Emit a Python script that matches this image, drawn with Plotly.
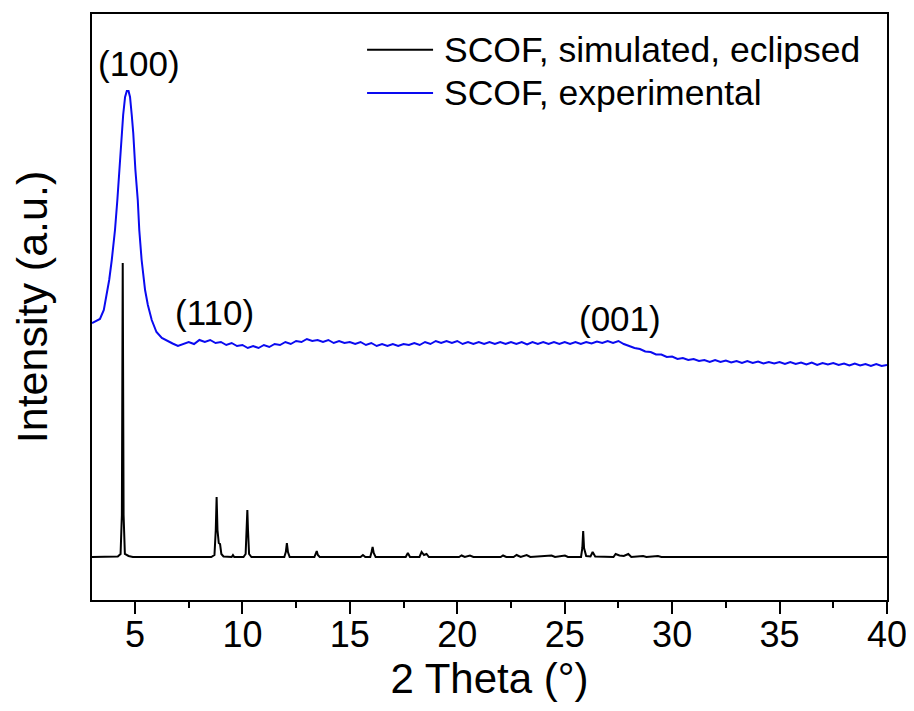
import plotly.graph_objects as go

# ---- data ----
# simulated pattern (eclipsed), intensity a.u.
sim_x = [3.0, 4.20, 4.33, 4.39, 4.43, 4.47, 4.53, 4.70, 4.90,
         8.55, 8.70, 8.76, 8.80, 8.84, 8.90, 8.96, 9.02, 9.12, 9.50, 9.56, 9.62,
         10.05, 10.15, 10.20, 10.23, 10.26, 10.31, 10.42,
         11.95, 12.02, 12.07, 12.12, 12.20,
         13.35, 13.42, 13.46, 13.51, 13.60,
         15.50, 15.61, 15.72, 15.95, 16.01, 16.06, 16.11, 16.20,
         17.60, 17.70, 17.80, 18.24, 18.34, 18.45, 18.57, 18.68,
         20.08, 20.20, 20.35, 20.59, 20.75, 22.02, 22.13, 22.28, 22.62, 22.76, 22.95,
         23.23, 23.40, 24.39, 24.55, 25.01, 25.15,
         25.76, 25.82, 25.86, 25.90, 26.00, 26.20, 26.30, 26.42,
         27.27, 27.37, 27.55, 27.75, 27.96, 28.10, 28.65, 28.80, 29.34, 29.50, 40.0]
sim_y = [43, 43.5, 46, 85, 337, 85, 46, 44, 43,
         43, 45, 70, 103, 70, 57, 56, 46, 43.5, 43, 45, 43,
         43, 46, 70, 90, 70, 46, 43,
         43, 48, 57, 48, 43,
         43, 46, 49, 45, 43,
         43, 45, 43, 43, 48, 53, 47, 43,
         43, 47, 43, 43, 48, 45, 46, 43,
         43, 44.5, 43, 44.5, 43, 43, 44.5, 43, 43, 45, 43,
         45, 43, 44.5, 43, 44.5, 43,
         43, 52, 69, 52, 44, 43.5, 48, 43.5,
         43, 46, 44.5, 44, 46, 43, 44, 43, 44, 43, 43]

# experimental pattern, intensity a.u.
exp_x = [3.0, 3.2, 3.37, 3.55, 3.68, 3.8, 3.92, 4.07, 4.18, 4.3, 4.38, 4.45, 4.54, 4.62, 4.70,
         4.77, 4.85, 4.92, 5.02, 5.13, 5.20, 5.31, 5.47, 5.6, 5.78, 5.95,
         6.0, 6.25, 6.5, 6.75, 7.0, 7.25, 7.5, 7.75, 8.0, 8.25, 8.5, 8.75,
         9.0, 9.25, 9.5, 9.75, 10.0, 10.25, 10.5, 10.75, 11.0, 11.25, 11.5, 11.75,
         12.0, 12.25, 12.5, 12.75, 13.0, 13.25, 13.5, 13.75, 14.0, 14.25, 14.5, 14.75,
         15.0, 15.25, 15.5, 15.75, 16.0, 16.25, 16.5, 16.75, 17.0, 17.25, 17.5, 17.75,
         18.0, 18.25, 18.5, 18.75, 19.0, 19.25, 19.5, 19.75, 20.0, 20.25, 20.5, 20.75,
         21.0, 21.25, 21.5, 21.75, 22.0, 22.25, 22.5, 22.75, 23.0, 23.25, 23.5, 23.75,
         24.0, 24.25, 24.5, 24.75, 25.0, 25.25, 25.5, 25.75, 26.0, 26.25, 26.5, 26.75,
         27.0, 27.25, 27.5, 27.75, 28.0, 28.25, 28.5, 28.75, 29.0, 29.25, 29.5, 29.75,
         30.0, 30.25, 30.5, 30.75, 31.0, 31.25, 31.5, 31.75, 32.0, 32.25, 32.5, 32.75,
         33.0, 33.25, 33.5, 33.75, 34.0, 34.25, 34.5, 34.75, 35.0, 35.25, 35.5, 35.75,
         36.0, 36.25, 36.5, 36.75, 37.0, 37.25, 37.5, 37.75, 38.0, 38.25, 38.5, 38.75,
         39.0, 39.25, 39.5, 39.75, 40.0]
exp_y = [277, 279, 281, 290, 305, 320, 340, 370, 400, 440, 467, 485, 503, 509, 509,
         503, 485, 467, 430, 400, 370, 340, 310, 295, 280, 271,
         268, 262, 259, 256.5, 254, 256, 258, 256, 260, 258, 260, 257,
         258, 255, 257, 254, 255, 252, 254, 252, 255, 253, 256, 255,
         258, 256, 259, 258, 261, 259, 260, 258, 260, 257, 259, 257,
         258, 256, 258, 255, 257, 254, 256, 254, 256, 254, 256, 255,
         257, 255, 258, 256, 259, 257, 259, 257, 259, 256, 258, 256,
         258, 256, 258, 256, 258, 256, 258, 256, 258, 255.5, 258, 256,
         258, 256, 258, 256, 258, 256, 258, 256, 258, 256.5, 258.5, 257,
         259, 257, 259, 256, 254, 252, 251, 248.5, 248, 245.5, 245.5, 243,
         243.5, 241, 242, 240, 241, 239, 240, 238, 240, 238, 239.5, 237.5,
         239, 237, 239, 237, 238.5, 236.5, 238, 236.5, 238, 236, 238, 236,
         237.5, 235.5, 237.5, 235, 237, 235.5, 237, 235, 236.5, 234.5, 236.5, 234.5,
         236, 234, 236, 234, 235]

peak_labels = ["(100)", "(110)", "(001)"]
peak_label_x = [5.21, 8.70, 27.57]
peak_label_y = [537, 288, 282]

series_names = ["SCOF, simulated, eclipsed", "SCOF, experimental"]
series_colors = ["#000000", "#0A0AF0"]

x_tick_vals = [5, 10, 15, 20, 25, 30, 35, 40]
x_tick_text = ["5", "10", "15", "20", "25", "30", "35", "40"]

FONT = "Liberation Sans, Arial, sans-serif"

fig = go.Figure()
fig.add_trace(go.Scatter(x=sim_x, y=sim_y, mode="lines", name=series_names[0],
                         line=dict(color=series_colors[0], width=2), showlegend=False))
fig.add_trace(go.Scatter(x=exp_x, y=exp_y, mode="lines", name=series_names[1],
                         line=dict(color=series_colors[1], width=2), showlegend=False))

# peak labels
for t, px, py in zip(peak_labels, peak_label_x, peak_label_y):
    fig.add_annotation(x=px, y=py, text=t, showarrow=False, xref="x", yref="y",
                       font=dict(family=FONT, size=35, color="black"),
                       xanchor="center", yanchor="middle")

# manual legend (long line samples as in the reference)
leg_y = [0.939, 0.865]
for name, col, ly in zip(series_names, series_colors, leg_y):
    fig.add_shape(type="line", xref="paper", yref="paper", x0=0.346, x1=0.429, y0=ly, y1=ly,
                  line=dict(color=col, width=2))
    fig.add_annotation(x=0.440, y=ly, xref="paper", yref="paper", text=name, showarrow=False,
                       xanchor="left", yanchor="middle",
                       font=dict(family=FONT, size=35.5, color="black"))

# the page body adds an 8px offset; size/margins compensate so the plot box sits at 92..887 x 14..600
fig.update_layout(
    width=906, height=703,
    margin=dict(l=84, r=27, t=6, b=111),
    paper_bgcolor="white", plot_bgcolor="white",
    font=dict(family=FONT, color="black"),
    showlegend=False,
)
fig.update_xaxes(
    range=[3, 40], tickvals=x_tick_vals, ticktext=x_tick_text,
    ticks="outside", ticklen=12, tickwidth=2, tickcolor="black",
    minor=dict(tickvals=[7.5, 12.5, 17.5, 22.5, 27.5, 32.5, 37.5], ticks="outside",
               ticklen=6, tickwidth=2, tickcolor="black"),
    showline=True, linecolor="black", linewidth=2, mirror=True,
    showgrid=False, zeroline=False, automargin=False,
    tickfont=dict(family=FONT, size=36, color="black"), ticklabelstandoff=-10,
    title=dict(text="2 Theta (°)", font=dict(family=FONT, size=42, color="black"), standoff=4),
)
fig.update_yaxes(
    range=[0, 586], showticklabels=False, ticks="",
    showline=True, linecolor="black", linewidth=2, mirror=True,
    showgrid=False, zeroline=False, automargin=False,
    title=dict(text="Intensity (a.u.)", font=dict(family=FONT, size=43, color="black"), standoff=30),
)

fig.write_html("out.html")
